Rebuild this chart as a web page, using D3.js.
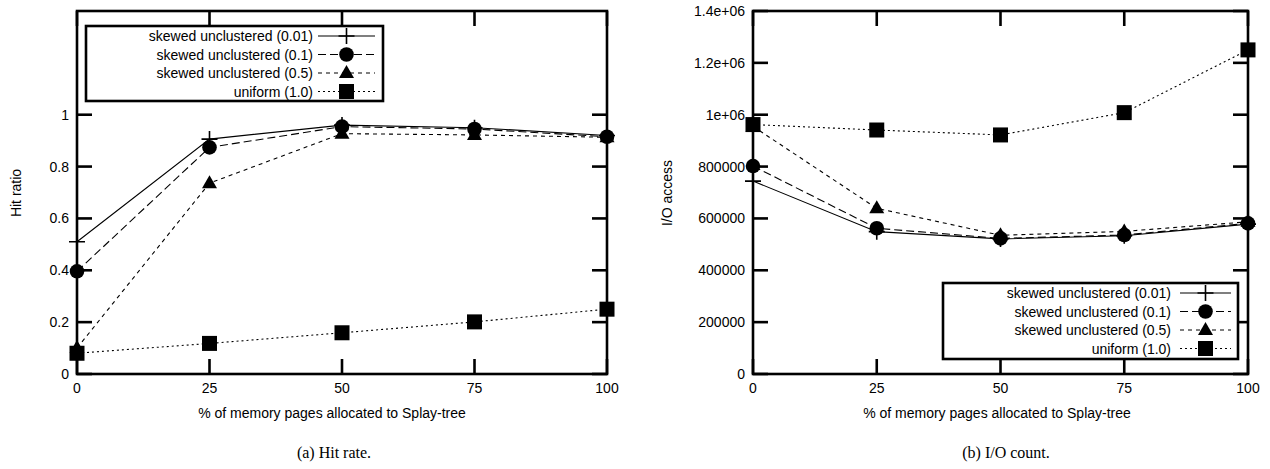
<!doctype html>
<html lang="en">
<head>
  <meta charset="utf-8" />
  <title>Hit rate and I/O count</title>
  <script src="https://d3js.org/d3.v7.min.js"></script>
  <style>
    body { margin: 0; background: #fff; }
    text { font-family: "Liberation Sans", Arial, sans-serif; fill: #000; }
    .caption { font-family: "Liberation Serif", "DejaVu Serif", serif; font-size: 16px; }
  </style>
</head>
<body>
<div id="chart"></div>
<script>
  // x positions (% of memory pages given to the Splay-tree)
  const xValues = [0, 25, 50, 75, 100];
  const seriesNames = ["skewed unclustered (0.01)", "skewed unclustered (0.1)",
    "skewed unclustered (0.5)", "uniform (1.0)"];

  // (a) hit ratio
  const hit001 = [0.51, 0.906, 0.96, 0.95, 0.92];
  const hit01 = [0.396, 0.874, 0.954, 0.945, 0.915];
  const hit05 = [0.10, 0.736, 0.927, 0.922, 0.913];
  const hitUni = [0.08, 0.118, 0.159, 0.201, 0.25];

  // (b) I/O access
  const io001 = [744000, 549000, 521000, 533000, 578000];
  const io01 = [802000, 562000, 523000, 536000, 581000];
  const io05 = [955000, 639000, 535000, 550000, 587000];
  const ioUni = [962000, 941000, 922000, 1008000, 1250000];

  const hitTicks = [0, 0.2, 0.4, 0.6, 0.8, 1];
  const ioTicks = [0, 200000, 400000, 600000, 800000, 1000000, 1200000, 1400000];
  const ioTickLabels = ["0", "200000", "400000", "600000", "800000", "1e+06", "1.2e+06", "1.4e+06"];

  const W = 1270, H = 469;
  const svg = d3.select("#chart").append("svg")
    .attr("width", W).attr("height", H);

  // line style per series: dash pattern and point type
  const styles = [
    { dash: null, point: "plus" },
    { dash: "8,4", point: "circle" },
    { dash: "4,4", point: "triangle" },
    { dash: "2,3", point: "square" }
  ];

  function drawPoint(g, type, x, y) {
    if (type == "plus") {
      g.append("path")
        .attr("d", `M${x - 8},${y}H${x + 8}M${x},${y - 8}V${y + 8}`)
        .attr("stroke", "#000").attr("stroke-width", 1.6).attr("fill", "none");
    } else if (type == "circle") {
      g.append("circle").attr("cx", x).attr("cy", y).attr("r", 7.3).attr("fill", "#000");
    } else if (type == "triangle") {
      g.append("path")
        .attr("d", `M${x},${y - 8}L${x + 7.5},${y + 5}L${x - 7.5},${y + 5}Z`)
        .attr("fill", "#000");
    } else {
      g.append("rect").attr("x", x - 7.5).attr("y", y - 7.5)
        .attr("width", 15).attr("height", 15).attr("fill", "#000");
    }
  }

  function panel(opts) {
    const x = d3.scaleLinear().domain([0, 100]).range([opts.left, opts.right]);
    const y = d3.scaleLinear().domain([0, opts.yMax]).range([374, 11]);
    const g = svg.append("g");
    const tick = 15;

    // lines first, then points
    opts.series.forEach((vals, i) => {
      const line = d3.line()
        .x((d, j) => x(xValues[j]))
        .y(d => y(d));
      g.append("path")
        .datum(vals)
        .attr("d", line)
        .attr("fill", "none")
        .attr("stroke", "#000")
        .attr("stroke-width", 1.1)
        .attr("stroke-dasharray", styles[i].dash);
    });
    opts.series.forEach((vals, i) => {
      vals.forEach((v, j) => drawPoint(g, styles[i].point, x(xValues[j]), y(v)));
    });

    // border and ticks (gnuplot style: inward, mirrored)
    const axisG = g.append("g").attr("stroke", "#000").attr("stroke-width", 2.6).attr("fill", "none");
    axisG.append("rect")
      .attr("x", opts.left).attr("y", 11)
      .attr("width", opts.right - opts.left).attr("height", 363);
    opts.yTicks.forEach(t => {
      axisG.append("line").attr("x1", opts.left).attr("x2", opts.left + tick)
        .attr("y1", y(t)).attr("y2", y(t));
      axisG.append("line").attr("x1", opts.right).attr("x2", opts.right - tick)
        .attr("y1", y(t)).attr("y2", y(t));
    });
    xValues.forEach(t => {
      axisG.append("line").attr("x1", x(t)).attr("x2", x(t))
        .attr("y1", 374).attr("y2", 374 - tick);
      axisG.append("line").attr("x1", x(t)).attr("x2", x(t))
        .attr("y1", 11).attr("y2", 11 + tick);
    });

    // tick labels
    g.selectAll(null).data(opts.yTicks).join("text")
      .attr("x", opts.left - 8).attr("y", d => y(d) + 5)
      .attr("text-anchor", "end").style("font-size", "14px")
      .text((d, i) => opts.yLabels[i]);
    g.selectAll(null).data(xValues).join("text")
      .attr("x", d => x(d)).attr("y", 393)
      .attr("text-anchor", "middle").style("font-size", "14px")
      .text(d => d);

    // axis titles
    g.append("text")
      .attr("x", opts.xTitleX).attr("y", 418)
      .attr("text-anchor", "middle").style("font-size", "14px")
      .text("% of memory pages allocated to Splay-tree");
    g.append("text")
      .attr("transform", `translate(${opts.yTitleX},193) rotate(-90)`)
      .attr("text-anchor", "middle").style("font-size", "14px")
      .text(opts.yTitle);
    g.append("text").attr("class", "caption")
      .attr("x", opts.captionX).attr("y", 458)
      .attr("text-anchor", "middle")
      .text(opts.caption);

    // legend
    const lg = opts.legend;
    g.append("rect")
      .attr("x", lg.x0).attr("y", lg.y0)
      .attr("width", lg.x1 - lg.x0).attr("height", lg.y1 - lg.y0)
      .attr("fill", "#fff").attr("stroke", "#000").attr("stroke-width", 2.6);
    seriesNames.forEach((name, i) => {
      const ry = lg.y0 + 10 + i * 18.5;
      g.append("text")
        .attr("x", lg.textRight).attr("y", ry + 5)
        .attr("text-anchor", "end").style("font-size", "14px")
        .text(name);
      g.append("line")
        .attr("x1", lg.lineX0).attr("x2", lg.lineX1)
        .attr("y1", ry).attr("y2", ry)
        .attr("stroke", "#000").attr("stroke-width", 1.1)
        .attr("stroke-dasharray", styles[i].dash);
      drawPoint(g, styles[i].point, (lg.lineX0 + lg.lineX1) / 2, ry);
    });
  }

  panel({
    left: 77, right: 607, yMax: 1.4,
    series: [hit001, hit01, hit05, hitUni],
    yTicks: hitTicks, yLabels: hitTicks.map(d => d),
    yTitle: "Hit ratio", yTitleX: 21,
    xTitleX: 332, captionX: 334, caption: "(a) Hit rate.",
    legend: { x0: 86, x1: 383, y0: 26, y1: 101, textRight: 313, lineX0: 318, lineX1: 375 }
  });

  panel({
    left: 753, right: 1248, yMax: 1400000,
    series: [io001, io01, io05, ioUni],
    yTicks: ioTicks, yLabels: ioTickLabels,
    yTitle: "I/O access", yTitleX: 672,
    xTitleX: 997, captionX: 1006, caption: "(b) I/O count.",
    legend: { x0: 943, x1: 1238, y0: 283, y1: 359, textRight: 1171, lineX0: 1180, lineX1: 1231 }
  });
</script>
</body>
</html>
